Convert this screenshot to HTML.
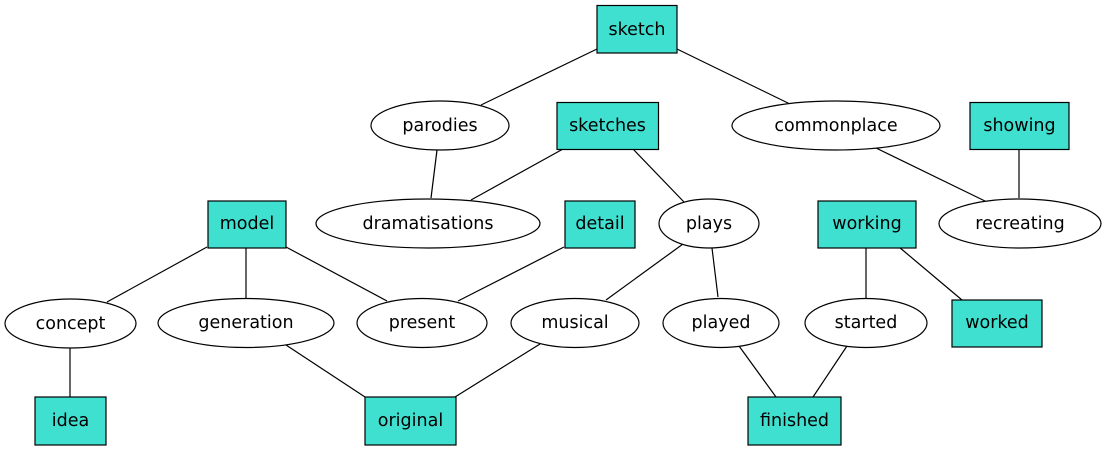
<!DOCTYPE html>
<html><head><meta charset="utf-8"><style>
html,body{margin:0;padding:0;background:#fff;width:1107px;height:451px;overflow:hidden}
text{font-family:"DejaVu Sans","Liberation Sans",sans-serif;font-size:17.5px;fill:#000}
</style></head><body>
<svg width="1107" height="451" viewBox="0 0 1107 451" xmlns="http://www.w3.org/2000/svg">
<g stroke="#000" stroke-width="1.2" fill="none">
<line x1="597" y1="49" x2="481" y2="105"/>
<line x1="677" y1="49" x2="790" y2="104"/>
<line x1="437" y1="150" x2="431" y2="198"/>
<line x1="563" y1="149" x2="471" y2="200"/>
<line x1="633" y1="149" x2="684" y2="202"/>
<line x1="876" y1="148" x2="987" y2="202"/>
<line x1="1019" y1="149" x2="1019" y2="198"/>
<line x1="207" y1="247" x2="107" y2="302"/>
<line x1="246" y1="247" x2="246" y2="298"/>
<line x1="286" y1="247" x2="387" y2="301"/>
<line x1="564" y1="247" x2="458" y2="301"/>
<line x1="683" y1="244" x2="606" y2="300"/>
<line x1="712" y1="248" x2="718" y2="297"/>
<line x1="866" y1="247" x2="866" y2="298"/>
<line x1="899" y1="247" x2="962" y2="300"/>
<line x1="70" y1="348" x2="70" y2="397"/>
<line x1="286" y1="345" x2="365" y2="397"/>
<line x1="540" y1="344" x2="455" y2="397"/>
<line x1="739" y1="346" x2="776" y2="397"/>
<line x1="847" y1="346" x2="813" y2="397"/>
</g>
<g fill="#40e0d0" stroke="#000" stroke-width="1.2">
<rect x="597" y="5.5" width="80" height="47.5"/>
<rect x="557" y="102.5" width="101.5" height="47"/>
<rect x="970" y="102.5" width="99" height="47"/>
<rect x="208" y="201" width="78" height="47"/>
<rect x="565" y="201" width="70" height="47"/>
<rect x="818" y="201" width="98" height="47"/>
<rect x="952" y="300" width="90" height="47"/>
<rect x="35" y="397" width="71" height="48"/>
<rect x="365" y="397" width="91" height="48"/>
<rect x="748" y="397" width="93" height="48"/>
</g>
<g fill="#fff" stroke="#000" stroke-width="1.2">
<ellipse cx="440" cy="125.5" rx="69" ry="24.5"/>
<ellipse cx="836" cy="125.5" rx="104" ry="24.5"/>
<ellipse cx="428" cy="223.5" rx="112" ry="24.5"/>
<ellipse cx="709" cy="223.5" rx="50" ry="24.5"/>
<ellipse cx="1020" cy="223.5" rx="81" ry="24.5"/>
<ellipse cx="70.5" cy="323.5" rx="65.5" ry="24.5"/>
<ellipse cx="246" cy="323" rx="88" ry="24.5"/>
<ellipse cx="422" cy="323" rx="65" ry="24.5"/>
<ellipse cx="575" cy="323" rx="64" ry="24.5"/>
<ellipse cx="721" cy="323" rx="58" ry="24.5"/>
<ellipse cx="866" cy="323" rx="61" ry="24.5"/>
</g>
<g text-anchor="middle">
<text x="637" y="35">sketch</text>
<text x="607.5" y="131">sketches</text>
<text x="1019.5" y="131">showing</text>
<text x="247" y="229">model</text>
<text x="600" y="229">detail</text>
<text x="867" y="229">working</text>
<text x="997" y="328">worked</text>
<text x="70.5" y="426">idea</text>
<text x="410.5" y="426">original</text>
<text x="794.5" y="426">finished</text>
<text x="440" y="131">parodies</text>
<text x="836" y="131">commonplace</text>
<text x="428" y="229">dramatisations</text>
<text x="709" y="229">plays</text>
<text x="1020" y="229">recreating</text>
<text x="70.5" y="329">concept</text>
<text x="246" y="328">generation</text>
<text x="422" y="328">present</text>
<text x="575" y="328">musical</text>
<text x="721" y="328">played</text>
<text x="866" y="328">started</text>
</g>
</svg>
</body></html>
